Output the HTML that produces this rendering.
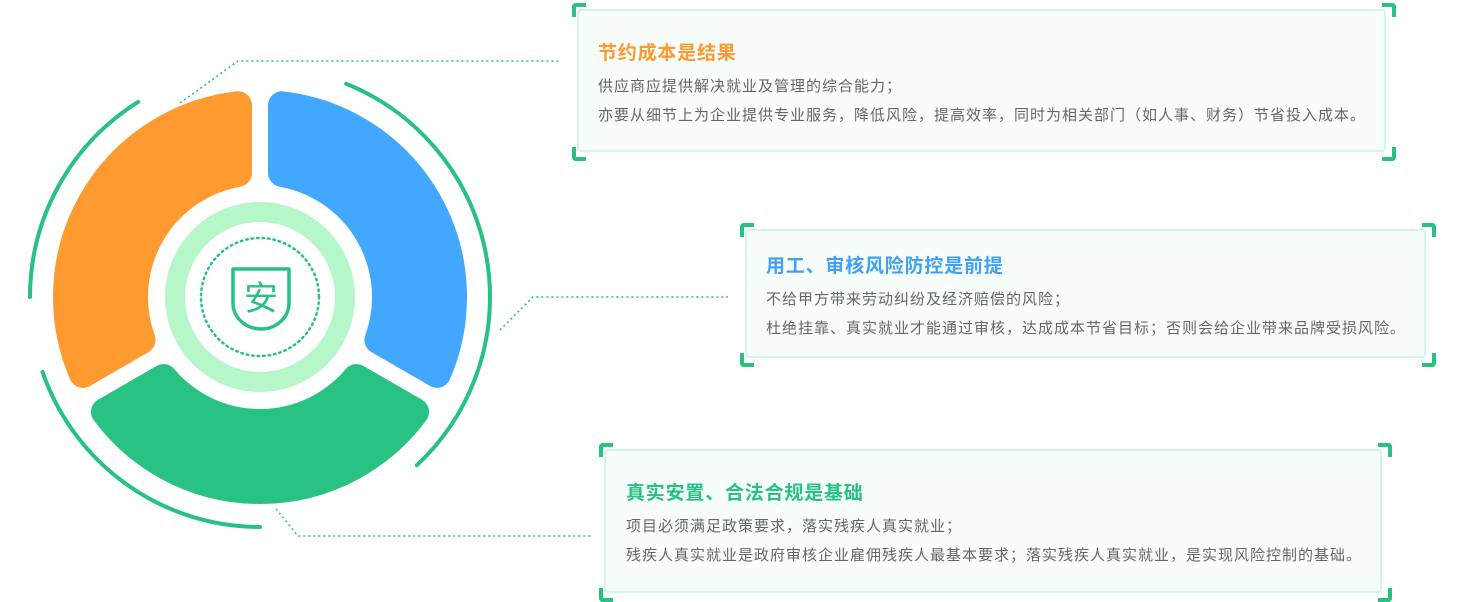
<!DOCTYPE html>
<html><head><meta charset="utf-8"><style>
body{margin:0;width:1460px;height:600px;background:#fff;position:relative;overflow:hidden;font-family:"Liberation Sans","Noto Sans CJK SC",sans-serif}
.card{position:absolute;background:#f7fdfb;border:2px solid #d3f6e8;border-radius:4px;box-sizing:border-box}
.br{position:absolute;width:10px;height:10px;border-color:#27c282;border-style:solid;border-width:0}
.t{position:absolute;font-size:19px;font-weight:bold;white-space:nowrap;letter-spacing:0.8px}
.b{position:absolute;font-size:15px;color:#666;white-space:nowrap;line-height:29px;letter-spacing:1px}
</style></head><body>
<svg width="1460" height="600" style="position:absolute;left:0;top:0">
<g fill="none" stroke="#27c282" stroke-width="1.6" stroke-dasharray="2 3">
<polyline points="180,103 238,61 560,61"/>
<polyline points="500,330 533,297 728,297"/>
<polyline points="276,509 298,536 590,536"/>
</g>
<g id="segs"></g>
<g fill="none" stroke="#27c282" stroke-width="4" stroke-linecap="round" id="arcs"></g>
<circle cx="260" cy="297" r="85" fill="none" stroke="#b5f7c8" stroke-width="20"/>
<circle cx="260" cy="297" r="59" fill="none" stroke="#27c282" stroke-width="2.5" stroke-dasharray="1.5 4" stroke-linecap="round"/>
<path d="M233,269 H289 V303 A28,26 0 0 1 233,303 Z" fill="none" stroke="#27c282" stroke-width="3.5" stroke-linejoin="round"/>
<text x="261" y="310" text-anchor="middle" font-size="34" fill="#27c282" font-family="Noto Sans CJK SC, sans-serif">安</text>
</svg>
<script>
(function(){
var cx=260,cy=297,R=193,r=126,d=22,ns="http://www.w3.org/2000/svg";
function P(rr,a){return [cx+rr*Math.cos(a),cy+rr*Math.sin(a)];}
var segs=[[150,270,"#ff9a30"],[-90,30,"#42a8fe"],[30,150,"#28c383"]];
var g=document.getElementById("segs");
segs.forEach(function(s){
 var a1=s[0]*Math.PI/180,a2=s[1]*Math.PI/180;
 var o1=a1+Math.asin(d/R),o2=a2-Math.asin(d/R),i1=a1+Math.asin(d/r),i2=a2-Math.asin(d/r);
 var p1=P(R,o1),p2=P(R,o2),p3=P(r,i2),p4=P(r,i1);
 var dd="M"+p1+" A"+R+","+R+" 0 0 1 "+p2+" L"+p3+" A"+r+","+r+" 0 0 0 "+p4+" Z";
 var e=document.createElementNS(ns,"path");e.setAttribute("d",dd);e.setAttribute("fill",s[2]);
 e.setAttribute("stroke",s[2]);e.setAttribute("stroke-width",28);e.setAttribute("stroke-linejoin","round");g.appendChild(e);
});
var arcs=[[180,238],[90,161],[-68,47]],ga=document.getElementById("arcs");
arcs.forEach(function(a){
 var p1=P(230,a[0]*Math.PI/180),p2=P(230,a[1]*Math.PI/180);
 var e=document.createElementNS(ns,"path");e.setAttribute("d","M"+p1+" A230,230 0 0 1 "+p2);ga.appendChild(e);
});
})();
</script>

<div class="card" style="left:577px;top:9px;width:809px;height:143px"></div>
<div class="br" style="left:572px;top:3px;border-left-width:4px;border-top-width:4px;border-top-left-radius:4px"></div>
<div class="br" style="left:572px;top:147px;border-left-width:4px;border-bottom-width:4px;border-bottom-left-radius:4px"></div>
<div class="br" style="left:1382px;top:3px;border-right-width:4px;border-top-width:4px;border-top-right-radius:4px"></div>
<div class="br" style="left:1382px;top:147px;border-right-width:4px;border-bottom-width:4px;border-bottom-right-radius:4px"></div>
<div class="t" style="left:598px;top:38px;color:#ff9a2e">节约成本是结果</div>
<div class="b" style="left:598px;top:72px">供应商应提供解决就业及管理的综合能力；<br>亦要从细节上为企业提供专业服务，降低风险，提高效率，同时为相关部门（如人事、财务）节省投入成本。</div>

<div class="card" style="left:745px;top:229px;width:681px;height:129px"></div>
<div class="br" style="left:740px;top:223px;border-left-width:4px;border-top-width:4px;border-top-left-radius:4px"></div>
<div class="br" style="left:740px;top:353px;border-left-width:4px;border-bottom-width:4px;border-bottom-left-radius:4px"></div>
<div class="br" style="left:1422px;top:223px;border-right-width:4px;border-top-width:4px;border-top-right-radius:4px"></div>
<div class="br" style="left:1422px;top:353px;border-right-width:4px;border-bottom-width:4px;border-bottom-right-radius:4px"></div>
<div class="t" style="left:766px;top:251px;color:#3fa0f5">用工、审核风险防控是前提</div>
<div class="b" style="left:766px;top:285px">不给甲方带来劳动纠纷及经济赔偿的风险；<br>杜绝挂靠、真实就业才能通过审核，达成成本节省目标；否则会给企业带来品牌受损风险。</div>

<div class="card" style="left:604px;top:449px;width:778px;height:144px"></div>
<div class="br" style="left:599px;top:443px;border-left-width:4px;border-top-width:4px;border-top-left-radius:4px"></div>
<div class="br" style="left:599px;top:588px;border-left-width:4px;border-bottom-width:4px;border-bottom-left-radius:4px"></div>
<div class="br" style="left:1378px;top:443px;border-right-width:4px;border-top-width:4px;border-top-right-radius:4px"></div>
<div class="br" style="left:1378px;top:588px;border-right-width:4px;border-bottom-width:4px;border-bottom-right-radius:4px"></div>
<div class="t" style="left:626px;top:478px;color:#27c282">真实安置、合法合规是基础</div>
<div class="b" style="left:626px;top:512px">项目必须满足政策要求，落实残疾人真实就业；<br>残疾人真实就业是政府审核企业雇佣残疾人最基本要求；落实残疾人真实就业，是实现风险控制的基础。</div>
</body></html>
